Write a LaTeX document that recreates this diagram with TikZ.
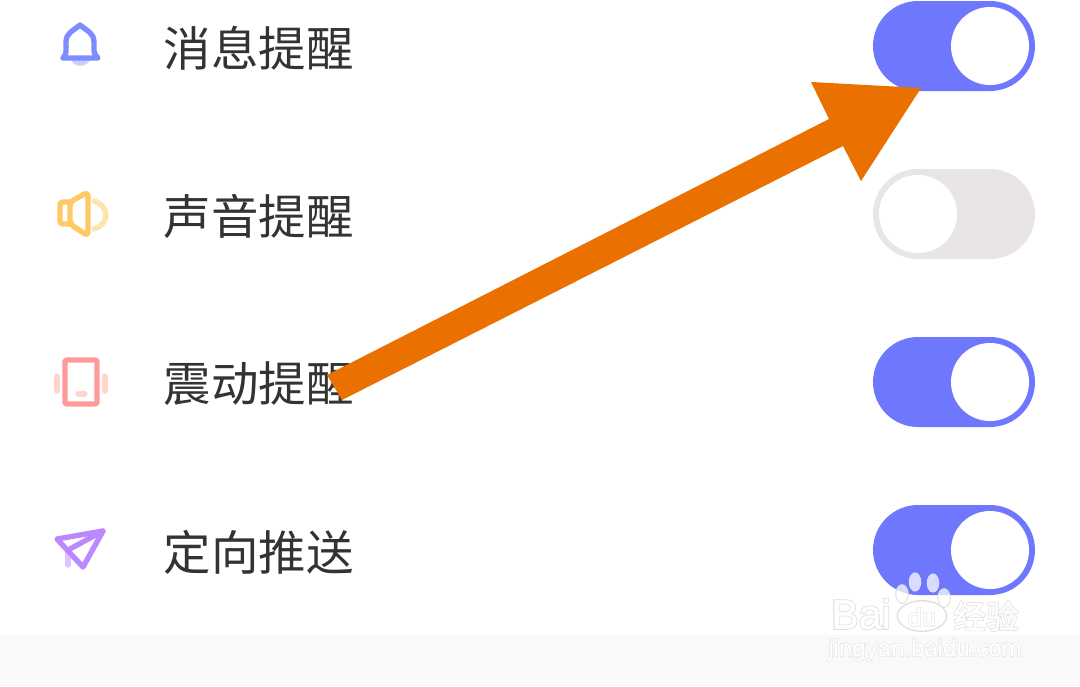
\documentclass[tikz,border=0pt]{standalone}
\usepackage{fontspec}
\usepackage{xcolor}
\newfontfamily\labelfont{Noto Sans CJK SC}
\newfontfamily\markfont{Noto Sans CJK SC}[FakeBold=1]
\newfontfamily\markfontheavy{Noto Sans CJK SC}[FakeBold=5]
\newfontfamily\latinfont{Liberation Sans}[FakeBold=1]
\newfontfamily\latinfontheavy{Liberation Sans}[FakeBold=5]
\definecolor{toggleon}{HTML}{6F77FF}
\definecolor{toggleoff}{HTML}{E9E5E5}
\definecolor{labelgray}{HTML}{333333}
\definecolor{footergray}{HTML}{F9F9F9}
\definecolor{markgray}{HTML}{DEDEDE}
\definecolor{arroworange}{HTML}{EA7000}
\definecolor{bellblue}{HTML}{7F8CFF}
\definecolor{belllight}{HTML}{C4D2FF}
\definecolor{speakeryellow}{HTML}{FFC966}
\definecolor{speakerlight}{HTML}{FFE3AC}
\definecolor{phonered}{HTML}{FF9A9A}
\definecolor{phonelight}{HTML}{FFD5CC}
\definecolor{planepurple}{HTML}{BB88FF}
\definecolor{planelight}{HTML}{DDC4FF}
\newcommand{\marktext}[1]{\rlap{\color{markgray}\markfontheavy #1}{\color{white}\markfont #1}}
\newcommand{\latintext}[1]{\rlap{\color{markgray}\latinfontheavy #1}{\color{white}\latinfont #1}}
\tikzset{
	rowlabel/.style={anchor=west, inner sep=0pt, text=labelgray, font=\fontsize{35.6}{36}\labelfont},
	iconline/.style={line width=4pt, line cap=round, line join=round},
	iconlight/.style={line width=4pt, line cap=round, line join=round},
	pawtoe/.style={fill=white, fill opacity=.75},
	pawside/.style={pawtoe, draw=markgray, line width=.7pt},
	marklabel/.style={inner sep=0pt}
}
\begin{document}
\begin{tikzpicture}[x=0.75pt, y=-0.75pt]
	\useasboundingbox (0,0) rectangle (1080,686);
	\fill[white] (0,0) rectangle (1080,686);
	\fill[footergray] (0,635) rectangle (1080,686);
	\foreach \y/\name/\txt in {48/msg/消息提醒, 216/sound/声音提醒, 384/shake/震动提醒, 552/push/定向推送}
	{
		\node[rowlabel] (\name) at (163.5,\y) {\txt};
	}
	\foreach \y in {46,382,550}
	{
		\fill[toggleon, rounded corners=33.75pt] (873,\y-45) rectangle (1035,\y+45);
		\fill[white] (990,\y) circle (29.25pt);
	}
	\fill[toggleoff, rounded corners=33.75pt] (873,169) rectangle (1035,259);
	\fill[white] (918,214) circle (29.25pt);
	\fill[belllight] (71,59) -- (90,59) .. controls (88,68) and (73,68) .. (71,59);
	\draw[iconline, bellblue] (63,58) -- (98,58) .. controls (93,54) and (94,50) .. (94,42)
		.. controls (94,33) and (87,31) .. (80,25) .. controls (73,31) and (66,33) .. (66,42)
		.. controls (66,50) and (67,54) .. (63,58);
	\draw[iconline, speakeryellow, rounded corners=2pt] (70,202) -- (60,202) -- (60,224) -- (70,224);
	\draw[iconline, speakeryellow, rounded corners=3pt] (70,202) -- (88,192) -- (88,236) -- (70,224) -- cycle;
	\draw[iconlight, speakerlight] (94,201) .. controls (110,206) and (110,224) .. (94,229);
	\draw[iconline, phonered, rounded corners=1.5pt] (65,360) rectangle (97,404);
	\draw[iconlight, phonelight] (57,376) -- (57,391);
	\draw[iconlight, phonelight] (105,376) -- (105,391);
	\draw[iconlight, phonelight] (78,394) -- (85,394);
	\draw[iconlight, planelight] (68,552) -- (68,565);
	\draw[iconline, planepurple] (103,531) -- (57,539) -- (83,567) -- cycle;
	\draw[iconline, planepurple] (103,531) -- (68,550);
	\fill[arroworange] (921,88) -- (811,82) -- (829,119) -- (327,375) -- (342,400)
		-- (843,146) -- (861,181) -- cycle;
	\fill[pawtoe] (915,582) ellipse (4.7pt and 7.2pt);
	\fill[pawtoe] (933,583) ellipse (4.7pt and 7.2pt);
	\path[pawside] (902,594) ellipse (4.7pt and 7pt);
	\path[pawside] (944,598) ellipse (4.7pt and 7pt);
	\draw[markgray, fill=white, line width=1pt] (922,616) ellipse (18.5pt and 11.5pt);
	\node[marklabel, font=\fontsize{31}{31}\selectfont] (bai) at (861,614) {\latintext{Bai}};
	\node[marklabel, font=\fontsize{19}{19}\selectfont] (du) at (922,617) {\latintext{du}};
	\node[marklabel, font=\fontsize{24.5}{25}\selectfont] (jingyanword) at (986,616) {\marktext{经验}};
	\node[marklabel, font=\fontsize{18}{18}\selectfont] (site) at (925,650) {\latintext{jingyan.baidu.com}};
\end{tikzpicture}
\end{document}
